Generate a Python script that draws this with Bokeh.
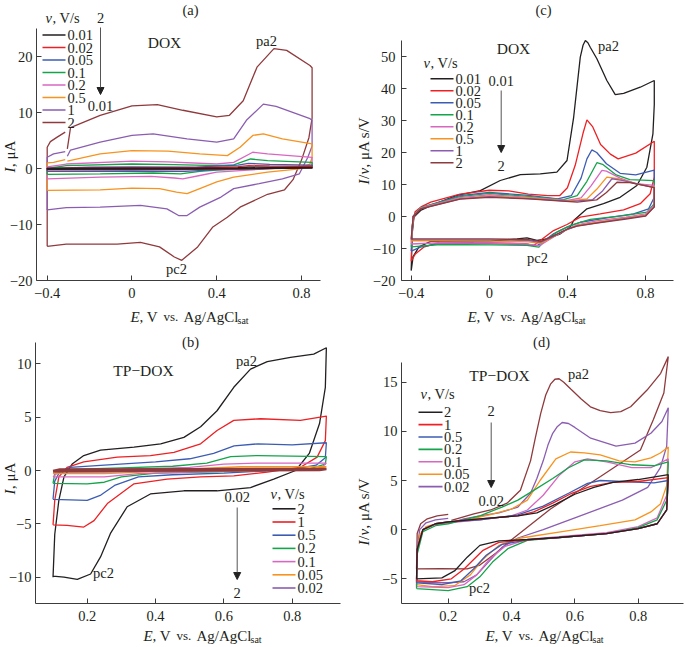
import math
from bokeh.plotting import figure
from bokeh.models import Range1d, FixedTicker, Label, Arrow, NormalHead
from bokeh.layouts import column, row
from bokeh.embed import file_html
from bokeh.resources import INLINE

NAN = float("nan")
FONT = "Liberation Serif"
TEXT = "#231f20"
AXIS = "#3c3c3c"
ARROW = "#555555"

BLACK = "#231f20"
RED = "#ed2024"
BLUE = "#3c5cb4"
GREEN = "#14a44a"
PINK = "#d867c2"
ORANGE = "#f7931e"
PURPLE = "#8b5db1"
BROWN = "#8f3a3d"

# ---------------- panel (a): DOX, I vs E ----------------
A_RATES = ["0.01", "0.02", "0.05", "0.1", "0.2", "0.5", "1", "2"]
A_COLORS = [BLACK, RED, BLUE, GREEN, PINK, ORANGE, PURPLE, BROWN]
A_E = [
    [-0.4, -0.4, -0.2, 0.0, 0.3, 0.5, 0.55, 0.65, 0.85, 0.85, 0.6, 0.4, 0.25, 0.0, -0.4],
    [-0.4, -0.4, -0.2, 0.0, 0.3, 0.5, 0.55, 0.65, 0.85, 0.85, 0.6, 0.4, 0.25, 0.0, -0.4],
    [-0.4, -0.4, -0.2, 0.0, 0.3, 0.5, 0.55, 0.65, 0.85, 0.85, 0.6, 0.4, 0.25, 0.0, -0.4],
    [-0.4, -0.4, -0.31, 0.0, 0.2, 0.4, 0.48, 0.56, 0.64, 0.85, 0.85, 0.6, 0.4, 0.32, 0.23, 0.1, -0.15, -0.4],
    [-0.4, -0.4, -0.31, 0.0, 0.17, 0.4, 0.48, 0.57, 0.64, 0.85, 0.85, 0.64, 0.4, 0.32, 0.24, 0.2, 0.09, -0.15, -0.4],
    [-0.4, -0.4, -0.37, -0.315, NAN, -0.305, -0.15, 0.0, 0.17, 0.32, 0.45, 0.51, 0.57, 0.62, 0.71, 0.85, 0.85,
     0.84, 0.79, 0.64, 0.48, 0.4, 0.32, 0.26, 0.21, 0.13, 0.0, -0.15, -0.4],
    [-0.4, -0.4, -0.37, -0.315, NAN, -0.305, -0.29, -0.15, 0.0, 0.1, 0.26, 0.4, 0.48, 0.54, 0.62, 0.68, 0.84, 0.85,
     0.85, 0.83, 0.79, 0.71, 0.6, 0.48, 0.42, 0.32, 0.26, 0.22, 0.165, 0.04, -0.15, -0.31, -0.4],
    [-0.4, -0.4, -0.385, -0.353, -0.315, NAN, -0.305, -0.29, -0.15, 0.0, 0.12, 0.24, 0.4, 0.46, 0.525, 0.59, 0.67,
     0.73, 0.84, 0.85, 0.85, 0.835, 0.8, 0.76, 0.72, 0.64, 0.51, 0.45, 0.38, 0.31, 0.235, 0.2, 0.13, 0.04, -0.07,
     -0.31, -0.4],
]
A_I = [
    [-0.15, 0.0, 0.05, 0.05, 0.05, 0.15, 0.25, 0.2, 0.2, 0.05, 0.0, -0.05, -0.1, -0.1, -0.15],
    [-0.3, 0.0, 0.1, 0.15, 0.15, 0.35, 0.5, 0.45, 0.4, 0.1, 0.0, -0.1, -0.2, -0.2, -0.25],
    [-0.5, 0.0, 0.25, 0.3, 0.25, 0.6, 0.9, 0.75, 0.6, 0.2, 0.0, -0.2, -0.5, -0.45, -0.5],
    [-1.05, 0.0, 0.5, 0.8, 0.7, 0.5, 0.65, 1.7, 1.4, 1.1, 0.35, 0.0, -0.3, -0.5, -0.95, -0.8, -0.95, -1.05],
    [-1.85, 0.3, 0.8, 1.3, 1.2, 0.8, 1.1, 2.9, 2.6, 2.0, 0.5, -0.06, -0.65, -1.25, -1.85, -1.7, -1.4, -1.55, -1.85],
    [-3.9, 1.0, 1.1, 1.6, NAN, 1.3, 2.6, 3.2, 3.1, 2.6, 2.3, 3.8, 5.9, 6.2, 5.3, 4.4, 2.0, 0.8, -0.06, -0.65,
     -1.55, -2.4, -3.6, -4.5, -4.2, -3.6, -3.5, -3.8, -3.9],
    [-7.4, 2.0, 2.6, 3.0, NAN, 2.2, 3.3, 4.7, 5.9, 6.2, 5.3, 4.7, 5.3, 8.6, 11.5, 11.1, 8.9, 8.6, 4.0, 2.0, -0.95,
     -1.85, -2.7, -3.6, -5.1, -6.9, -8.4, -8.4, -7.2, -6.6, -6.9, -7.0, -7.4],
    [-13.9, 3.8, 4.8, 5.6, 6.5, NAN, 3.5, 7.3, 9.5, 11.2, 11.4, 10.4, 9.2, 9.5, 12.1, 18.1, 21.4, 21.1, 18.4, 18.0,
     9.0, 5.5, 1.5, -2.0, -3.8, -4.6, -6.9, -8.7, -10.5, -14.0, -16.4, -15.8, -14.0, -13.2, -13.5, -13.5, -13.9],
]
A_XTICKS = [-0.4, 0.0, 0.4, 0.8]
A_XTICK_LABELS = ["\u22120.4", "0", "0.4", "0.8"]
A_YTICKS = [-20, -10, 0, 10, 20]
A_YTICK_LABELS = ["\u221220", "\u221210", "0", "10", "20"]

# ---------------- panel (c): DOX, I/v vs E ----------------
C_RATES = ["0.01", "0.02", "0.05", "0.1", "0.2", "0.5", "1", "2"]
C_COLORS = [BLACK, RED, BLUE, GREEN, PINK, ORANGE, PURPLE, BROWN]
C_E = [
    [-0.4, -0.395, -0.386, -0.352, -0.3, -0.166, -0.046, 0.056, 0.159, 0.261, 0.346, 0.398, 0.432, 0.466, 0.48,
     0.492, 0.505, 0.517, 0.551, 0.602, 0.645, 0.688, 0.773, 0.845, 0.845, 0.838, 0.807, 0.756, 0.67, 0.585, 0.5,
     0.432, 0.415, 0.364, 0.295, 0.244, 0.193, 0.142, 0.005, -0.166, -0.3, -0.36, -0.39, -0.4],
    [-0.4, -0.395, -0.38, -0.35, -0.3, -0.15, 0.0, 0.1, 0.2, 0.3, 0.36, 0.4, 0.44, 0.48, 0.5, 0.53, 0.57, 0.62,
     0.66, 0.75, 0.845, 0.845, 0.824, 0.773, 0.688, 0.568, 0.466, 0.398, 0.329, 0.261, 0.227, 0.184, 0.09, -0.08,
     -0.25, -0.336, -0.379, -0.4],
    [-0.4, -0.39, -0.35, -0.15, 0.0, 0.2, 0.35, 0.42, 0.47, 0.5, 0.525, 0.55, 0.6, 0.67, 0.75, 0.845, 0.845, 0.816,
     0.739, 0.602, 0.466, 0.398, 0.329, 0.261, 0.244, 0.193, 0.005, -0.25, -0.353, -0.4],
    [-0.4, -0.39, -0.35, -0.15, 0.0, 0.2, 0.38, 0.45, 0.5, 0.551, 0.58, 0.65, 0.72, 0.845, 0.845, 0.807, 0.688,
     0.517, 0.415, 0.346, 0.278, 0.253, 0.193, 0.005, -0.25, -0.4],
    [-0.4, -0.39, -0.35, -0.15, 0.0, 0.2, 0.4, 0.47, 0.52, 0.577, 0.6, 0.67, 0.75, 0.845, 0.845, 0.8, 0.7, 0.55,
     0.45, 0.37, 0.3, 0.255, 0.2, 0.0, -0.25, -0.4],
    [-0.4, -0.39, -0.35, -0.15, 0.0, 0.2, 0.4, 0.5, 0.55, 0.602, 0.66, 0.75, 0.845, 0.845, 0.8, 0.7, 0.55, 0.45,
     0.38, 0.31, 0.26, 0.2, 0.0, -0.4],
    [-0.4, -0.39, -0.35, -0.15, 0.0, 0.2, 0.42, 0.53, 0.58, 0.628, 0.68, 0.76, 0.845, 0.845, 0.8, 0.7, 0.55, 0.45,
     0.39, 0.32, 0.26, 0.2, 0.0, -0.4],
    [-0.4, -0.39, -0.35, -0.15, 0.0, 0.2, 0.45, 0.55, 0.6, 0.654, 0.72, 0.845, 0.845, 0.8, 0.7, 0.55, 0.45, 0.4,
     0.33, 0.265, 0.2, 0.0, -0.4],
]
C_I = [
    [-16.9, -5.4, -0.2, 1.9, 3.4, 6.6, 8.1, 11.25, 13.1, 13.3, 13.85, 17.5, 31.0, 49.8, 53.5, 55.0, 54.3, 52.9,
     49.3, 42.5, 38.1, 38.5, 40.4, 42.5, 35.0, 25.8, 15.4, 9.7, 6.0, 4.0, 2.4, -1.25, -3.3, -5.4, -7.0, -7.5,
     -6.7, -7.0, -7.7, -7.7, -7.8, -9.5, -12.5, -16.9],
    [-14.0, -3.0, 1.5, 3.0, 4.5, 7.0, 8.2, 8.0, 7.0, 6.5, 6.5, 9.0, 16.0, 26.0, 30.2, 28.0, 22.5, 19.5, 18.0, 19.8,
     23.5, 12.3, 7.1, 4.0, 2.1, 0.8, -0.2, -2.5, -4.4, -7.5, -9.1, -8.5, -8.3, -8.2, -8.0, -9.6, -11.7, -14.0],
    [-10.8, 0.0, 2.8, 6.5, 7.5, 6.6, 5.5, 6.5, 12.0, 18.0, 20.8, 20.0, 16.5, 13.5, 13.0, 14.5, 6.0, 2.4, 0.8, -0.4,
     -1.8, -3.3, -5.4, -8.5, -9.1, -8.75, -8.5, -8.3, -9.6, -10.8],
    [-9.5, 0.0, 2.8, 6.2, 7.2, 6.3, 5.3, 6.5, 11.0, 16.8, 16.3, 13.0, 11.5, 11.2, 4.0, 1.35, 0.3, -0.9, -2.8, -4.9,
     -8.0, -9.6, -9.0, -8.85, -8.75, -9.5],
    [-8.6, 0.0, 2.7, 5.9, 6.8, 6.0, 5.0, 5.8, 9.5, 14.4, 14.2, 12.0, 10.3, 9.7, 3.5, 0.8, -0.2, -1.4, -2.6, -4.8,
     -7.5, -9.2, -8.6, -8.3, -8.2, -8.6],
    [-7.8, 0.0, 2.6, 5.6, 6.4, 5.8, 4.8, 5.5, 8.5, 12.3, 11.8, 10.3, 9.2, 3.0, 0.5, -0.4, -1.8, -2.8, -4.6, -7.0,
     -8.4, -7.9, -7.7, -7.5],
    [-7.3, 0.0, 2.5, 5.5, 6.2, 5.6, 4.7, 5.3, 8.0, 11.8, 11.3, 10.2, 9.0, 3.0, 0.3, -0.6, -2.0, -2.9, -4.3, -6.5,
     -8.1, -7.5, -7.3, -7.2],
    [-7.0, 0.0, 2.4, 5.4, 6.0, 5.5, 4.5, 5.2, 7.5, 10.7, 10.6, 9.0, 3.0, 0.1, -0.8, -2.1, -3.0, -3.9, -6.0, -7.8,
     -7.2, -7.0, -7.0],
]
C_XTICKS = [-0.4, 0.0, 0.4, 0.8]
C_XTICK_LABELS = ["\u22120.4", "0", "0.4", "0.8"]
C_YTICKS = [-20, -10, 0, 10, 20, 30, 40, 50]
C_YTICK_LABELS = ["\u221220", "\u221210", "0", "10", "20", "30", "40", "50"]

# ---------------- panel (b): TP-DOX, I vs E ----------------
B_RATES = ["2", "1", "0.5", "0.2", "0.1", "0.05", "0.02", "0.01"]
B_IN_LEGEND = 7
B_COLORS = [BLACK, RED, BLUE, GREEN, PINK, ORANGE, PURPLE, BROWN]
B_E = [
    [0.1, 0.105, 0.117, 0.132, 0.156, 0.19, 0.239, 0.337, 0.415, 0.483, 0.532, 0.58, 0.629, 0.678, 0.727, 0.795,
     0.863, 0.9, 0.897, 0.88, 0.85, 0.81, 0.746, 0.678, 0.58, 0.483, 0.385, 0.317, 0.268, 0.239, 0.21, 0.171,
     0.132, 0.1],
    [0.1, 0.105, 0.117, 0.141, 0.19, 0.288, 0.385, 0.454, 0.532, 0.58, 0.629, 0.707, 0.824, 0.9, 0.897, 0.873,
     0.824, 0.727, 0.629, 0.532, 0.434, 0.337, 0.259, 0.22, 0.19, 0.141, 0.1],
    [0.1, 0.105, 0.12, 0.15, 0.25, 0.4, 0.5, 0.57, 0.63, 0.7, 0.8, 0.9, 0.897, 0.87, 0.8, 0.6, 0.45, 0.35, 0.28,
     0.24, 0.2, 0.15, 0.1],
    [0.1, 0.105, 0.15, 0.3, 0.45, 0.55, 0.62, 0.7, 0.9, 0.897, 0.85, 0.6, 0.4, 0.3, 0.25, 0.2, 0.1],
    [0.1, 0.12, 0.3, 0.5, 0.6, 0.7, 0.9, 0.88, 0.6, 0.35, 0.25, 0.1],
    [0.1, 0.12, 0.5, 0.65, 0.9, 0.85, 0.4, 0.25, 0.1],
    [0.1, 0.12, 0.5, 0.65, 0.9, 0.85, 0.4, 0.25, 0.1],
    [0.1, 0.12, 0.5, 0.9, 0.88, 0.4, 0.1],
]
B_I = [
    [-10.0, -6.0, -2.8, -0.6, 0.6, 1.4, 1.9, 2.2, 2.5, 3.1, 4.1, 5.6, 7.8, 9.5, 10.2, 10.6, 10.9, 11.5, 7.8, 4.4,
     1.6, 0.0, -0.8, -1.6, -1.9, -1.9, -2.2, -3.4, -5.9, -8.1, -9.7, -10.2, -10.0, -9.9],
    [-5.1, -2.8, -0.6, 0.3, 0.8, 1.25, 1.4, 1.7, 2.5, 3.75, 4.7, 4.85, 4.7, 5.1, 2.8, 1.25, 0.3, -0.15, -0.5, -0.6,
     -0.8, -1.25, -3.1, -4.7, -5.3, -5.15, -5.1],
    [-2.7, -1.0, -0.1, 0.3, 0.5, 0.8, 1.1, 1.6, 2.3, 2.5, 2.4, 2.6, 1.2, 0.5, 0.1, -0.25, -0.4, -0.6, -1.4, -2.3,
     -2.8, -2.75, -2.7],
    [-1.2, -0.3, 0.1, 0.25, 0.4, 0.7, 1.3, 1.4, 1.3, 0.6, 0.15, -0.1, -0.25, -0.6, -1.1, -1.25, -1.2],
    [-0.6, 0.0, 0.1, 0.3, 0.6, 0.7, 0.7, 0.1, -0.05, -0.3, -0.6, -0.6],
    [-0.3, 0.0, 0.15, 0.35, 0.35, 0.05, -0.1, -0.3, -0.3],
    [-0.15, 0.0, 0.05, 0.15, 0.15, 0.05, -0.05, -0.15, -0.15],
    [-0.05, 0.1, 0.12, 0.15, 0.05, 0.0, -0.05],
]
B_XTICKS = [0.2, 0.4, 0.6, 0.8]
B_XTICK_LABELS = ["0.2", "0.4", "0.6", "0.8"]
B_YTICKS = [-10, -5, 0, 5, 10]
B_YTICK_LABELS = ["\u221210", "\u22125", "0", "5", "10"]

# ---------------- panel (d): TP-DOX, I/v vs E ----------------
D_RATES = ["2", "1", "0.5", "0.2", "0.1", "0.05", "0.02", "0.01"]
D_IN_LEGEND = 7
D_COLORS = [BLACK, RED, BLUE, GREEN, PINK, ORANGE, PURPLE, BROWN]
D_E = [
    [0.1, 0.102, 0.12, 0.16, 0.2, 0.3, 0.42, 0.48, 0.54, 0.6, 0.66, 0.72, 0.8, 0.895,
     0.89, 0.86, 0.8, 0.7, 0.55, 0.45, 0.36, 0.3, 0.26, 0.22, 0.18, 0.1],
    [0.1, 0.102, 0.12, 0.16, 0.2, 0.3, 0.42, 0.47, 0.53, 0.59, 0.65, 0.72, 0.8, 0.895,
     0.89, 0.86, 0.8, 0.7, 0.55, 0.45, 0.36, 0.31, 0.25, 0.21, 0.15, 0.1],
    [0.1, 0.102, 0.12, 0.16, 0.2, 0.3, 0.42, 0.5, 0.58, 0.64, 0.68, 0.75, 0.85, 0.895,
     0.89, 0.86, 0.8, 0.7, 0.55, 0.45, 0.37, 0.32, 0.28, 0.24, 0.18, 0.1],
    [0.1, 0.102, 0.12, 0.16, 0.2, 0.3, 0.37, 0.42, 0.47, 0.53, 0.58, 0.63, 0.7, 0.78, 0.85, 0.895,
     0.89, 0.86, 0.8, 0.7, 0.55, 0.45, 0.39, 0.34, 0.3, 0.26, 0.2, 0.1],
    [0.1, 0.102, 0.12, 0.16, 0.2, 0.3, 0.4, 0.45, 0.5, 0.55, 0.6, 0.64, 0.7, 0.78, 0.84, 0.895,
     0.89, 0.86, 0.8, 0.7, 0.55, 0.45, 0.38, 0.33, 0.29, 0.25, 0.2, 0.1],
    [0.1, 0.102, 0.11, 0.13, 0.16, 0.2, 0.26, 0.33, 0.4, 0.45, 0.49, 0.54, 0.586, 0.63, 0.68, 0.74, 0.79, 0.84,
     0.87, 0.895, 0.89, 0.87, 0.84, 0.79, 0.68, 0.58, 0.42, 0.36, 0.31, 0.27, 0.22, 0.15, 0.1],
    [0.1, 0.102, 0.11, 0.13, 0.16, 0.2, NAN, 0.205, 0.25, 0.3, 0.36, 0.42, 0.46, 0.48, 0.5, 0.515, 0.53, 0.545,
     0.56, 0.58, 0.6, 0.65, 0.73, 0.79, 0.84, 0.875, 0.895,
     0.89, 0.87, 0.83, 0.75, 0.6, 0.5, 0.42, 0.37, 0.33, 0.29, 0.25, 0.2, 0.15, 0.1],
    [0.1, 0.102, 0.113, 0.134, 0.165, 0.2, NAN, 0.21, 0.281, 0.334, 0.386, 0.428, 0.46, 0.475, 0.492, 0.508, 0.523,
     0.537, 0.55, 0.565, 0.587, 0.62, 0.649, 0.68, 0.713, 0.745, 0.776, 0.828, 0.871, 0.895,
     0.881, 0.848, 0.807, 0.681, 0.523, 0.397, 0.35, 0.3, 0.26, 0.176, 0.1],
]
D_I = [
    [-5.0, -2.0, 0.0, 0.6, 0.8, 1.1, 1.4, 1.7, 2.6, 3.6, 4.3, 4.8, 5.1, 5.6,
     2.0, 0.6, 0.1, -0.4, -0.8, -1.0, -1.15, -1.6, -2.8, -4.2, -4.9, -5.0],
    [-5.2, -2.0, 0.0, 0.6, 0.8, 1.1, 1.4, 1.8, 2.7, 3.7, 4.4, 4.8, 4.9, 5.3,
     2.0, 0.6, 0.1, -0.4, -0.8, -1.05, -1.3, -2.1, -4.0, -5.0, -5.3, -5.2],
    [-5.4, -2.0, 0.0, 0.6, 0.8, 1.0, 1.5, 2.4, 3.7, 4.7, 5.0, 4.9, 4.75, 5.0,
     2.0, 0.6, 0.1, -0.4, -0.8, -1.05, -1.5, -2.6, -4.0, -5.2, -5.6, -5.4],
    [-6.0, -2.5, -0.2, 0.4, 0.6, 1.4, 2.3, 3.0, 4.0, 5.2, 6.3, 7.1, 7.0, 6.6, 6.5, 6.9,
     3.0, 1.0, 0.2, -0.4, -0.8, -1.1, -1.9, -3.3, -4.8, -5.8, -6.2, -6.0],
    [-5.8, -2.0, 0.0, 0.5, 0.7, 1.0, 1.4, 2.0, 3.5, 5.5, 6.9, 7.2, 6.9, 6.3, 6.3, 7.2,
     3.5, 1.2, 0.3, -0.3, -0.7, -1.0, -1.7, -3.0, -4.6, -5.6, -5.9, -5.8],
    [-5.6, -2.5, -0.5, 0.3, 0.6, 0.7, 1.0, 1.5, 2.1, 3.0, 5.0, 7.2, 7.9, 7.8, 7.6, 7.0, 6.9, 7.3, 7.8, 8.4,
     4.5, 2.6, 1.8, 1.0, 0.4, -0.1, -0.9, -1.6, -3.0, -4.6, -5.7, -5.8, -5.6],
    [-5.3, -2.0, 0.0, 0.7, 1.0, 1.15, NAN, 0.7, 1.1, 1.4, 1.7, 2.3, 3.7, 5.2, 7.0, 8.6, 9.8, 10.5,
     10.9, 10.8, 10.4, 9.3, 8.5, 8.8, 9.8, 11.0, 12.4,
     8.5, 6.3, 4.3, 3.0, 1.2, 0.0, -0.85, -1.8, -3.2, -4.6, -5.3, -5.4, -5.4, -5.3],
    [-4.0, -0.4, 0.6, 1.1, 1.4, 1.55, NAN, 0.95, 1.6, 2.0, 2.7, 4.0, 7.0, 9.3, 11.8, 13.7, 14.8,
     15.3, 15.35, 15.0, 14.3, 13.3, 12.5, 12.1, 11.9, 12.0, 12.5, 14.2, 15.9, 17.6,
     13.9, 11.2, 8.1, 5.4, 2.1, -1.1, -2.4, -3.6, -4.0, -3.97, -4.0],
]
D_XTICKS = [0.2, 0.4, 0.6, 0.8]
D_XTICK_LABELS = ["0.2", "0.4", "0.6", "0.8"]
D_YTICKS = [-5, 0, 5, 10, 15]
D_YTICK_LABELS = ["\u22125", "0", "5", "10", "15"]

# ---------------- layout (page pixels) ----------------
# fig: (left, top, width, height); axes: (spine x, axis y, x-axis right end, y-axis top)
SPEC_A = dict(fig=(0, 0, 342, 326), axes=(36, 280, 320, 28),
              xcal=((-0.4, 46.7), (0.8, 301.0)), ycal=((20, 56.0), (-20, 280.0)))
SPEC_C = dict(fig=(342, 0, 342, 326), axes=(401, 280, 673, 40),
              xcal=((-0.4, 410.7), (0.8, 645.0)), ycal=((50, 56.0), (-20, 280.0)))
SPEC_B = dict(fig=(0, 326, 342, 319), axes=(35, 603, 340, 342),
              xcal=((0.2, 86.7), (0.8, 291.7)), ycal=((10, 363.3), (-10, 576.7)))
SPEC_D = dict(fig=(342, 326, 342, 319), axes=(401, 603, 683, 362),
              xcal=((0.2, 447.7), (0.8, 637.7)), ycal=((15, 381.7), (-5, 578.3)))

TICK_SIZE = "14.5px"
LEG_SIZE = 14.5
NOTE_SIZE = 14.5
NAME_SIZE = 15.5
AXLAB_SIZE = 15


def converters(spec):
    (xv1, xp1), (xv2, xp2) = spec["xcal"]
    (yv1, yp1), (yv2, yp2) = spec["ycal"]
    sx = (xv2 - xv1) / (xp2 - xp1)
    sy = (yv2 - yv1) / (yp2 - yp1)
    return (lambda px: xv1 + (px - xp1) * sx), (lambda py: yv1 + (py - yp1) * sy)


def make_panel(spec, xticks, xlabels, yticks, ylabels, ystand):
    fx0, fy0, w, h = spec["fig"]
    sp, axy, xend, ytop = spec["axes"]
    cx, cy = converters(spec)
    p = figure(width=w, height=h, output_backend="svg", toolbar_location=None, title=None,
               x_range=Range1d(cx(fx0), cx(fx0 + w)), y_range=Range1d(cy(fy0 + h), cy(fy0)),
               min_border_left=0, min_border_right=0, min_border_top=0, min_border_bottom=0)
    p.outline_line_color = None
    p.grid.visible = False
    p.background_fill_color = "white"
    p.border_fill_color = "white"
    for ax in (p.xaxis[0], p.yaxis[0]):
        ax.axis_line_color = AXIS
        ax.axis_line_width = 1
        ax.major_tick_line_color = AXIS
        ax.major_tick_in = 5
        ax.major_tick_out = 0
        ax.minor_tick_line_color = None
        ax.major_label_text_font = FONT
        ax.major_label_text_font_size = TICK_SIZE
        ax.major_label_text_color = TEXT
    p.xaxis.fixed_location = cy(axy)
    p.xaxis.bounds = (cx(sp), cx(xend))
    p.yaxis.fixed_location = cx(sp)
    p.yaxis.bounds = (cy(axy), cy(ytop))
    p.xaxis.ticker = FixedTicker(ticks=xticks)
    p.xaxis.major_label_overrides = dict(zip(xticks, xlabels))
    p.yaxis.ticker = FixedTicker(ticks=yticks)
    p.yaxis.major_label_overrides = dict(zip(yticks, ylabels))
    p.xaxis.major_label_standoff = 7
    p.yaxis.major_label_standoff = ystand
    return p, cx, cy


def txt(p, cx, cy, px, py, text, size=NOTE_SIZE, align="center", style="normal", angle=0.0, xo=0, yo=0):
    p.add_layout(Label(x=cx(px), y=cy(py), text=text, text_font=FONT, text_font_size=f"{size}px",
                       text_align=align, text_baseline="middle", text_font_style=style,
                       text_color=TEXT, angle=angle, x_offset=xo, y_offset=yo))


def xlabel(p, cx, cy, px, py):
    parts = [("E", AXLAB_SIZE, "italic", 0, 0), (", V", AXLAB_SIZE, "normal", 9, 0),
             ("vs.", 13, "normal", 33, 0), ("Ag/AgCl", AXLAB_SIZE, "normal", 53, 0),
             ("sat", 10, "normal", 107, -4)]
    for t, s, st, xo, yo in parts:
        txt(p, cx, cy, px, py, t, size=s, align="left", style=st, xo=xo, yo=yo)


def ylabel(p, cx, cy, px, py, per_v):
    if per_v:
        parts = [("I", "italic", 0), ("/", "normal", 5.5), ("v", "italic", 10), (", \u03bcA s/V", "normal", 17)]
    else:
        parts = [("I", "italic", 0), (", \u03bcA", "normal", 5.5)]
    for t, st, off in parts:
        txt(p, cx, cy, px, py, t, size=AXLAB_SIZE, align="left", style=st, angle=math.pi / 2, yo=off)


def legend(p, cx, cy, hx, hy, lx0, lx1, tx, y0, step, labels, colors):
    txt(p, cx, cy, hx, hy, "v", size=LEG_SIZE, align="left", style="italic")
    txt(p, cx, cy, hx, hy, ", V/s", size=LEG_SIZE, align="left", xo=7)
    ys = [cy(y0 + k * step) for k in range(len(labels))]
    p.segment(x0=[cx(lx0)] * len(labels), x1=[cx(lx1)] * len(labels), y0=ys, y1=ys,
              line_color=colors, line_width=1.6)
    for k, lab in enumerate(labels):
        txt(p, cx, cy, tx, y0 + k * step, lab, size=LEG_SIZE, align="left")


def arrow(p, cx, cy, ax, ay0, ay1, top, bottom, ty0, ty1):
    p.add_layout(Arrow(end=NormalHead(size=7, fill_color="#222222", line_color="#222222"),
                       x_start=cx(ax), y_start=cy(ay0), x_end=cx(ax), y_end=cy(ay1),
                       line_color=ARROW, line_width=1))
    txt(p, cx, cy, ax, ty0, top)
    txt(p, cx, cy, ax, ty1, bottom)


# ---- (a)
pa, ax_, ay_ = make_panel(SPEC_A, A_XTICKS, A_XTICK_LABELS, A_YTICKS, A_YTICK_LABELS, 4)
for e, i, c in reversed(list(zip(A_E, A_I, A_COLORS))):
    pa.line(e, i, line_color=c, line_width=1.3)
txt(pa, ax_, ay_, 190, 9, "(a)")
txt(pa, ax_, ay_, 164, 42, "DOX", size=NAME_SIZE)
txt(pa, ax_, ay_, 266, 40, "pa2")
txt(pa, ax_, ay_, 176, 268, "pc2")
legend(pa, ax_, ay_, 45, 17, 42, 65, 67, 34.5, 12.5, A_RATES, A_COLORS)
arrow(pa, ax_, ay_, 100, 27, 94, "2", "0.01", 17, 105)
ylabel(pa, ax_, ay_, 9.5, 172, False)
xlabel(pa, ax_, ay_, 130, 316)

# ---- (c)
pc, cx_, cy_ = make_panel(SPEC_C, C_XTICKS, C_XTICK_LABELS, C_YTICKS, C_YTICK_LABELS, 6)
for e, i, c in zip(C_E, C_I, C_COLORS):
    pc.line(e, i, line_color=c, line_width=1.3)
txt(pc, cx_, cy_, 543, 9, "(c)")
txt(pc, cx_, cy_, 513, 48, "DOX", size=NAME_SIZE)
txt(pc, cx_, cy_, 608, 45, "pa2")
txt(pc, cx_, cy_, 537, 257, "pc2")
legend(pc, cx_, cy_, 423, 62, 430, 453, 455, 78.3, 12.0, C_RATES, C_COLORS)
arrow(pc, cx_, cy_, 500.7, 90, 152, "0.01", "2", 80, 165)
ylabel(pc, cx_, cy_, 363, 184, True)
xlabel(pc, cx_, cy_, 467, 316)

# ---- (b)
pb, bx_, by_ = make_panel(SPEC_B, B_XTICKS, B_XTICK_LABELS, B_YTICKS, B_YTICK_LABELS, 4)
for k, (e, i, c) in enumerate(zip(B_E, B_I, B_COLORS)):
    pb.line(e, i, line_color=c, line_width=2.5 if k >= B_IN_LEGEND else 1.3)
txt(pb, bx_, by_, 190, 341, "(b)")
txt(pb, bx_, by_, 143, 370, "TP\u2212DOX", size=NAME_SIZE)
txt(pb, bx_, by_, 246, 360, "pa2")
txt(pb, bx_, by_, 103, 572, "pc2")
legend(pb, bx_, by_, 270, 493, 272, 295, 297, 508.3, 13.2, B_RATES[:B_IN_LEGEND], B_COLORS[:B_IN_LEGEND])
arrow(pb, bx_, by_, 236.7, 507, 579, "0.02", "2", 496, 592)
ylabel(pb, bx_, by_, 9.5, 494, False)
xlabel(pb, bx_, by_, 143, 635)

# ---- (d)
pd_, dx_, dy_ = make_panel(SPEC_D, D_XTICKS, D_XTICK_LABELS, D_YTICKS, D_YTICK_LABELS, 4)
for e, i, c in reversed(list(zip(D_E, D_I, D_COLORS))):
    pd_.line(e, i, line_color=c, line_width=1.3)
txt(pd_, dx_, dy_, 541, 341, "(d)")
txt(pd_, dx_, dy_, 499, 375, "TP\u2212DOX", size=NAME_SIZE)
txt(pd_, dx_, dy_, 578, 373, "pa2")
txt(pd_, dx_, dy_, 479, 587, "pc2")
legend(pd_, dx_, dy_, 420, 393, 418, 442, 443.5, 411.7, 12.4, D_RATES[:D_IN_LEGEND], D_COLORS[:D_IN_LEGEND])
arrow(pd_, dx_, dy_, 490.7, 422, 487, "2", "0.02", 410, 500)
ylabel(pd_, dx_, dy_, 363, 545, True)
xlabel(pd_, dx_, dy_, 485, 635)

layout = column(row(pa, pc, spacing=0), row(pb, pd_, spacing=0), spacing=0)
open("out.html", "w").write(file_html(layout, INLINE))
